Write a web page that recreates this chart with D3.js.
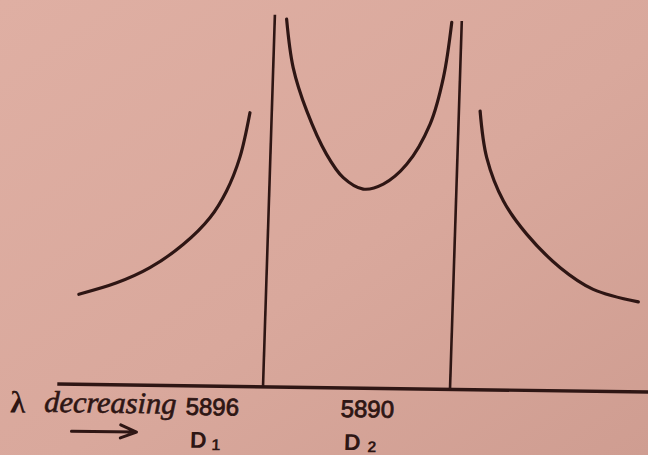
<!DOCTYPE html>
<meta charset="utf-8">
<script src="https://d3js.org/d3.v7.min.js"></script>
<body>
    <div id="my_dataviz"></div>
</body>

<style>
    body {
        margin: 0;
        background-color: #d8a89d;
    }
</style>

<script>
    // Anomalous dispersion of sodium vapour near the D lines
    // wavelength in angstrom, refractive index in arbitrary units (0 = the axis)
    var leftLambda = [5902.0, 5900.8, 5899.75, 5898.7, 5897.87, 5897.37, 5896.98, 5896.7]
    var leftIndex = [24.2, 27.4, 31.6, 38.0, 45.3, 52.5, 61.5, 73.6]

    var midLambda = [5895.62, 5895.36, 5894.88, 5894.2, 5893.64, 5892.99, 5892.35, 5891.62, 5890.91, 5890.53, 5890.32]
    var midIndex = [98.9, 85.9, 74.3, 62.7, 56.5, 53.5, 54.9, 60.3, 71.2, 83.8, 98.6]

    var rightLambda = [5889.32, 5889.06, 5888.48, 5887.7, 5886.59, 5885.51, 5884.05]
    var rightIndex = [74.9, 62.4, 50.8, 42.0, 33.1, 27.4, 24.2]

    // absorption lines
    var lineLambda = [5896, 5890]
    var lineTop = [100, 99]
    var tickLabels = ["5896", "5890"]
    var lineNames = ["D", "D"]
    var lineSubs = ["1", "2"]

    var axisLambda = [5902.6, 5883.4]

    var width = 648
    var height = 455
    var ink = "#2e1614"

    var svg = d3.select("#my_dataviz")
        .append("svg")
        .attr("width", width)
        .attr("height", height)
        .style("display", "block")

    // paper background, a bit darker towards the lower right
    var defs = svg.append("defs")
    var grad = defs.append("linearGradient")
        .attr("id", "paper")
        .attr("x1", 0).attr("y1", 0).attr("x2", 1).attr("y2", 1)
    grad.append("stop").attr("offset", "0%").attr("stop-color", "#dfafa3")
    grad.append("stop").attr("offset", "55%").attr("stop-color", "#d9a89c")
    grad.append("stop").attr("offset", "100%").attr("stop-color", "#cf9d91")
    svg.append("rect")
        .attr("width", width)
        .attr("height", height)
        .attr("fill", "url(#paper)")

    // lambda decreases to the right
    var x = d3.scaleLinear()
        .domain([5896, 5890])
        .range([263, 450])
    var y = d3.scaleLinear()
        .domain([0, 100])
        .range([388, 16])

    // the printed figure is photographed slightly askew
    var g = svg.append("g")
        .attr("transform", "translate(350,388) matrix(1,0.0136,-0.032,1,0,0) translate(-350,-388)")

    var line = d3.line()
        .x(function (d) { return x(d[0]) })
        .y(function (d) { return y(d[1]) })
        .curve(d3.curveCatmullRom.alpha(0.5))

    var branches = [
        d3.zip(leftLambda, leftIndex),
        d3.zip(midLambda, midIndex),
        d3.zip(rightLambda, rightIndex)
    ]

    g.selectAll(".branch")
        .data(branches)
        .enter()
        .append("path")
        .attr("class", "branch")
        .attr("d", line)
        .attr("fill", "none")
        .attr("stroke", ink)
        .attr("stroke-width", 3.2)
        .attr("stroke-linecap", "round")

    // horizontal axis
    g.append("line")
        .attr("x1", x(axisLambda[0]))
        .attr("x2", x(axisLambda[1]))
        .attr("y1", y(0))
        .attr("y2", y(0))
        .attr("stroke", ink)
        .attr("stroke-width", 3.4)

    // D lines
    g.selectAll(".dline")
        .data(lineLambda)
        .enter()
        .append("line")
        .attr("class", "dline")
        .attr("x1", function (d) { return x(d) })
        .attr("x2", function (d) { return x(d) })
        .attr("y1", y(0))
        .attr("y2", function (d, i) { return y(lineTop[i]) })
        .attr("stroke", ink)
        .attr("stroke-width", 2.6)

    // labels sit to the left of their line
    var labelShift = [-50, -82]

    g.selectAll(".tick-label")
        .data(tickLabels)
        .enter()
        .append("text")
        .attr("class", "tick-label")
        .attr("x", function (d, i) { return x(lineLambda[i]) + labelShift[i] })
        .attr("y", 417)
        .attr("text-anchor", "middle")
        .style("font-family", "'Liberation Sans', Arial, sans-serif")
        .style("font-size", "24px")
        .attr("fill", ink)
        .attr("stroke", ink)
        .attr("stroke-width", 0.8)
        .text(function (d) { return d })

    var names = g.selectAll(".line-name")
        .data(lineNames)
        .enter()
        .append("text")
        .attr("class", "line-name")
        .attr("x", function (d, i) { return x(lineLambda[i]) + labelShift[i] - 6 })
        .attr("y", 450)
        .attr("text-anchor", "middle")
        .style("font-family", "'Liberation Sans', Arial, sans-serif")
        .style("font-size", "23px")
        .style("font-weight", "bold")
        .attr("fill", ink)
    names.append("tspan").text(function (d) { return d })
    names.append("tspan")
        .attr("dx", function (d, i) { return i === 0 ? 5 : 7 })
        .attr("dy", 2)
        .style("font-size", "16px")
        .text(function (d, i) { return lineSubs[i] })

    // lambda decreasing caption with arrow
    g.append("text")
        .attr("x", 11)
        .attr("y", 417)
        .style("font-family", "'Liberation Serif', 'Times New Roman', serif")
        .style("font-size", "31px")
        .style("font-weight", "bold")
        .attr("fill", ink)
        .text("λ")

    g.append("text")
        .attr("x", 45)
        .attr("y", 416)
        .attr("textLength", 132)
        .attr("lengthAdjust", "spacingAndGlyphs")
        .style("font-family", "'Liberation Serif', 'Times New Roman', serif")
        .style("font-size", "30px")
        .style("font-style", "italic")
        .attr("fill", ink)
        .attr("stroke", ink)
        .attr("stroke-width", 0.6)
        .text("decreasing")

    g.append("path")
        .attr("d", "M73,435 L137,435 M122,428 L138,435 L122,441")
        .attr("fill", "none")
        .attr("stroke", ink)
        .attr("stroke-width", 3)
        .attr("stroke-linecap", "round")
        .attr("stroke-linejoin", "round")
</script>
